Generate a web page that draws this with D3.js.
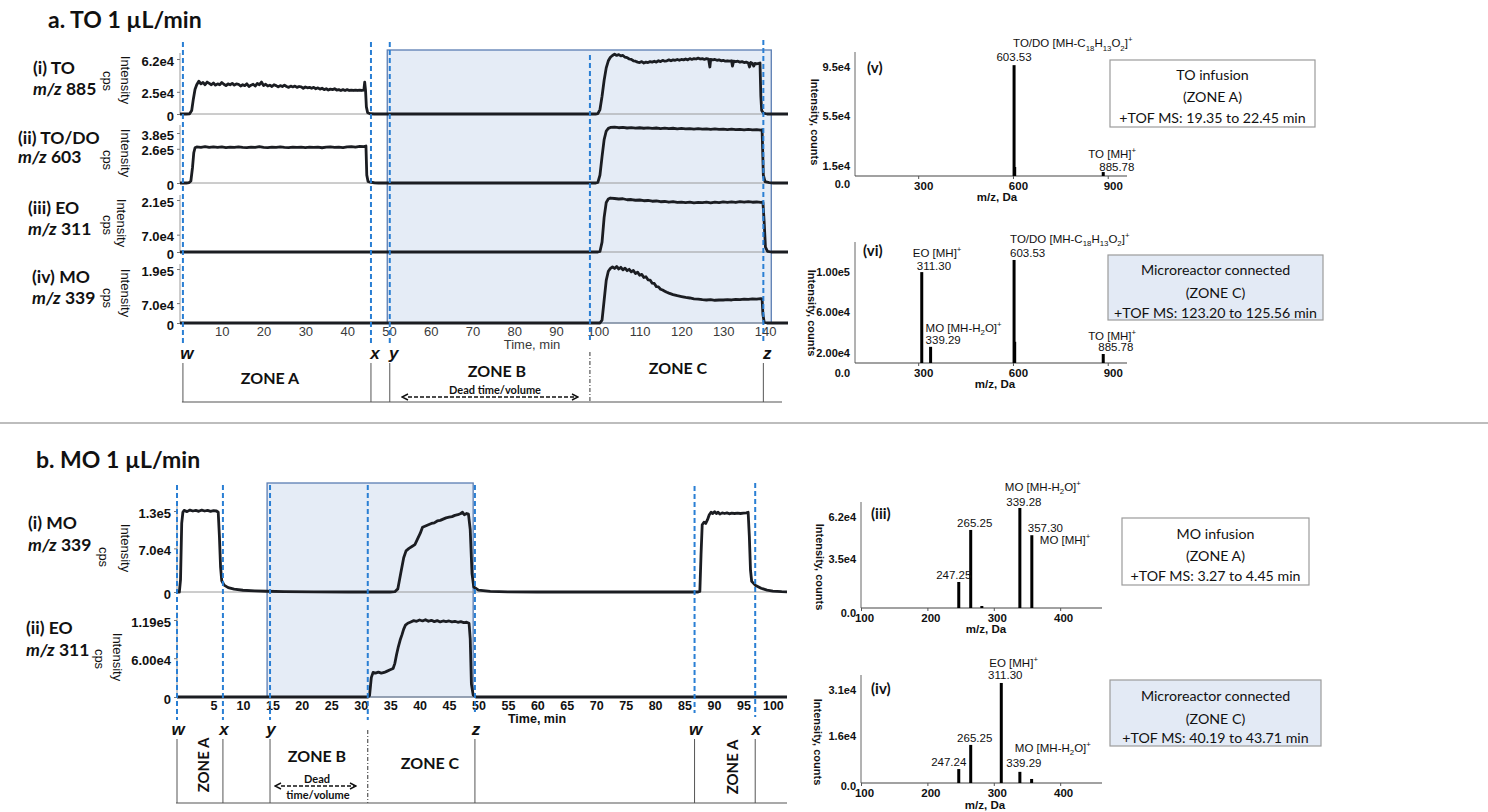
<!DOCTYPE html>
<html>
<head>
<meta charset="utf-8">
<script src="https://cdn.jsdelivr.net/npm/d3@7"></script>
<style>
html,body{margin:0;padding:0;background:#fff;}
svg{display:block;}
text{white-space:pre;}
</style>
</head>
<body>
<svg id="fig" width="1488" height="812"></svg>
<script>
// ================= DATA =================
// Panel a: TO infusion, extracted-ion chromatograms [time (min), intensity (cps)]
const aTO885 = [[0,0],[1.5,0],[2.3,300],[2.8,4000],[3.2,17000],[3.6,28000],[4.0,33000],[4.5,37000],[5,34000],[5.5,35500],[6,33000],[6.5,36000],[7,34500],[7.5,33000],[8,35000],[8.5,32500],[9,34000],[9.5,33000],[10,35500],[10.5,33500],[11,32000],[11.5,34000],[12,33000],[12.5,34500],[13,32500],[13.5,34000],[14,33500],[14.5,31500],[15,33000],[15.5,32000],[16,34000],[16.5,31000],[17,32500],[17.5,33500],[18,31500],[18.5,34500],[19,33000],[19.5,36000],[20,32000],[20.5,33500],[21,31500],[21.5,32500],[22,31000],[22.5,33000],[23,32000],[23.5,30500],[24,32000],[24.5,31000],[25,32500],[25.5,31000],[26,30000],[26.5,31500],[27,30500],[27.5,31500],[28,30000],[28.5,31000],[29,30500],[29.5,29000],[30,30500],[30.5,29500],[31,30000],[31.5,29000],[32,30000],[32.5,28500],[33,29500],[33.5,28000],[34,29000],[34.5,27500],[35,28500],[35.5,27000],[36,28000],[36.5,27500],[37,28500],[37.5,27000],[38,27500],[38.5,26500],[39,27500],[39.5,26500],[40,27500],[40.5,26500],[41,27000],[41.5,26500],[42,27000],[42.5,26500],[43,27000],[43.5,26500],[44,27000],[44.2,36000],[44.4,27000],[44.6,8000],[44.9,1500],[45.5,300],[46.5,0],[99.5,0],[100,300],[100.5,5000],[101,20000],[101.5,38000],[102,52000],[102.5,60000],[103,64000],[103.5,66000],[104,67500],[104.5,66000],[105,67000],[105.5,65500],[106,66000],[106.5,64000],[107,63500],[107.5,62000],[108,61500],[108.5,60000],[109,59500],[109.5,58500],[110,58000],[110.5,59000],[111,57500],[111.5,58500],[112,58000],[112.5,59000],[113,58500],[113.5,59500],[114,58500],[114.5,60000],[115,59000],[115.5,60500],[116,59500],[116.5,60000],[117,61000],[117.5,60000],[118,61000],[118.5,60500],[119,61500],[119.5,60500],[120,61500],[120.5,61000],[121,62000],[121.5,61000],[122,62500],[122.5,61500],[123,62500],[123.5,62000],[124,63000],[124.5,62000],[125,62500],[125.5,61500],[126,62500],[126.5,62000],[126.8,53000],[127,61500],[127.5,61000],[128,61500],[128.5,60500],[129,61000],[129.5,60000],[130,60500],[130.5,59500],[131,60000],[131.5,59500],[132,60000],[132.2,54000],[132.5,59500],[133,59000],[133.5,59500],[134,58500],[134.5,59000],[135,58000],[135.5,58500],[136,57500],[136.3,53000],[136.6,58000],[137,57000],[137.3,54000],[137.6,57000],[138,56500],[138.5,57000],[138.8,57500],[139,20000],[139.2,4000],[139.6,1000],[140.5,0],[145.5,0]];
const aTODO603 = [[0,0],[1.5,0],[2.2,3000],[2.6,15000],[3.0,120000],[3.3,230000],[3.6,268000],[4,274000],[5,271000],[6,276000],[7,270000],[8,275000],[9,271000],[10,274000],[11,269000],[12,273000],[13,270000],[14,275000],[15,271000],[16,269000],[17,273000],[18,270000],[19,276000],[20,271000],[21,269000],[22,273000],[23,270000],[24,274000],[25,271000],[26,269000],[27,273000],[28,270000],[29,272000],[30,269000],[31,273000],[32,270000],[33,272000],[34,268000],[35,272000],[36,274000],[37,270000],[38,273000],[39,269000],[40,275000],[41,277000],[42,273000],[43,278000],[44,276000],[44.5,281000],[44.7,60000],[45,12000],[45.5,6000],[46.5,2000],[47.5,0],[99.5,0],[100,5000],[100.5,60000],[101,200000],[101.5,330000],[102,395000],[102.5,415000],[103,422000],[104,425000],[105,420000],[106,423000],[107,418000],[108,421000],[109,417000],[110,420000],[111,416000],[112,419000],[113,415000],[114,418000],[115,414000],[116,417000],[117,413000],[118,416000],[119,412000],[120,415000],[121,411000],[122,414000],[123,410000],[124,413000],[125,409000],[126,412000],[127,408000],[128,411000],[129,407000],[130,410000],[131,406000],[132,409000],[133,405000],[134,408000],[135,404000],[136,407000],[137,403000],[138,406000],[139,402000],[139.3,405000],[139.6,60000],[140,10000],[141,3000],[142,0],[145.5,0]];
const aEO311 = [[0,0],[100,0],[100.5,2000],[101,40000],[101.5,140000],[102,200000],[102.5,214000],[103,218000],[104,216000],[105,214000],[106,215000],[107,211000],[108,212000],[109,209000],[110,210000],[111,207000],[112,208000],[113,205000],[114,206000],[115,203000],[116,204000],[117,201000],[118,203000],[119,200000],[120,201000],[121,199000],[122,201000],[123,198000],[124,200000],[125,199000],[126,201000],[127,198000],[128,201000],[129,199000],[130,202000],[131,200000],[132,202000],[133,200000],[134,203000],[135,201000],[136,203000],[137,201000],[138,202000],[139,200000],[139.5,201000],[139.8,120000],[140.1,20000],[140.6,3000],[141.5,0],[145.5,0]];
const aMO339 = [[0,0],[100.5,0],[101,10000],[101.5,80000],[102,150000],[102.5,182000],[103,192000],[103.5,197000],[104,192000],[104.5,199000],[105,190000],[105.5,196000],[106,187000],[106.5,193000],[107,184000],[107.5,189000],[108,180000],[108.5,185000],[109,174000],[109.5,179000],[110,168000],[110.5,171000],[111,160000],[111.5,163000],[112,152000],[112.5,151000],[113,140000],[113.5,139000],[114,128000],[114.5,127000],[115,119000],[115.5,116000],[116,112000],[116.5,108000],[117,105000],[118,100000],[119,96000],[120,93000],[121,90000],[122,88000],[123,85000],[124,84000],[125,82000],[126,81000],[127,82000],[128,80000],[129,81000],[130,81000],[131,82000],[132,81000],[133,83000],[134,82000],[135,84000],[136,83000],[137,85000],[138,84000],[139,86000],[139.3,85000],[139.5,30000],[139.8,3000],[140.5,0],[145.5,0]];

const aTimeTicks = [10,20,30,40,50,60,70,80,90,100,110,120,130,140];
const aTicksTO885 = [0, 2.5e4, 6.2e4];   const aTickLabelsTO885 = ["0","2.5e4","6.2e4"];
const aTicksTODO603 = [0, 2.6e5, 3.8e5]; const aTickLabelsTODO603 = ["0","2.6e5","3.8e5"];
const aTicksEO311 = [0, 7.0e4, 2.1e5];   const aTickLabelsEO311 = ["0","7.0e4","2.1e5"];
const aTicksMO339 = [0, 7.0e4, 1.9e5];   const aTickLabelsMO339 = ["0","7.0e4","1.9e5"];
const aMarkerTimes = [0.7, 45.7, 50.2, 139.6];
const aMarkerNames = ["w","x","y","z"];
const aSwitchTime = 98.1;

// Panel b: MO infusion chromatograms [time (min), intensity (cps)]
const bMO339 = [[-1.2,0],[-0.8,0],[-0.6,20000],[-0.4,110000],[-0.2,128000],[0,131000],[0.5,129000],[1,131500],[1.5,130000],[2,131000],[2.5,129500],[3,131500],[3.5,130000],[4,131000],[4.5,129500],[5,130500],[5.5,130000],[5.8,128000],[6.0,90000],[6.2,40000],[6.4,18000],[6.8,11000],[7.5,7000],[8.5,4500],[10,2800],[12,1800],[14,1200],[17,700],[22,300],[28,0],[35,0],[35.8,500],[36.3,5000],[36.8,30000],[37.3,55000],[37.7,66000],[38.2,70000],[38.7,73000],[39.2,76000],[39.6,84000],[40.1,94000],[40.5,104000],[41,106000],[41.5,108000],[42,110000],[42.5,111000],[43,114000],[43.5,115000],[44,117000],[44.5,119000],[45,120000],[45.5,121000],[46,123000],[46.5,124000],[47,126000],[47.3,128000],[47.6,124000],[48,126000],[48.3,125000],[48.6,100000],[48.9,30000],[49.2,8000],[50,3000],[52,1000],[55,300],[60,0],[87.3,0],[87.6,1000],[87.8,60000],[88,108000],[88.3,112000],[88.6,110000],[88.9,116000],[89.2,124000],[89.5,128000],[89.8,126000],[90.1,129000],[90.4,126000],[90.7,128000],[91,125000],[91.4,127000],[91.8,126000],[92.2,127000],[92.6,125500],[93,126500],[93.5,126000],[94,126500],[94.5,126000],[95,126500],[95.5,127000],[95.8,128000],[96,90000],[96.2,35000],[96.4,17000],[97,11000],[98,6000],[99,3000],[100,1500],[101.5,500],[102.4,300]];
const bEO311 = [[-1.2,0],[31.2,0],[31.5,2000],[31.8,30000],[32.1,38000],[32.5,37000],[33,38500],[33.5,37000],[34,38000],[34.5,40000],[35,42000],[35.5,44000],[35.8,52000],[36.1,66000],[36.4,78000],[36.7,88000],[37,96000],[37.3,105000],[37.6,111000],[38,114000],[38.5,116000],[39,118000],[39.5,117000],[40,119000],[40.5,117500],[41,119500],[41.5,117000],[42,118500],[42.5,116500],[43,118000],[43.5,116000],[44,117500],[44.5,116500],[45,117500],[45.5,116000],[46,117000],[46.5,115500],[47,116500],[47.5,115000],[48,115500],[48.4,114000],[48.6,90000],[48.8,20000],[49.1,3000],[49.6,0],[102.4,0]];

const bTimeTicks = [5,10,15,20,25,30,35,40,45,50,55,60,65,70,75,80,85,90,95,100];
const bTicksMO339 = [0, 7.0e4, 1.3e5];  const bTickLabelsMO339 = ["0","7.0e4","1.3e5"];
const bTicksEO311 = [0, 6.0e4, 1.19e5]; const bTickLabelsEO311 = ["0","6.00e4","1.19e5"];
const bMarkerTimes = [-1.2, 6.6, 14.6, 49.4, 86.7, 97.0];
const bMarkerNames = ["w","x","y","z","w","x"];
const bSwitchTime = 31.2;

// Mass spectra: m/z and intensity (counts)
const specTOinfMz  = [603.53, 605.5, 885.78];
const specTOinfInt = [9.0e4, 7.3e3, 3.2e3];
const specTOmrMz   = [311.30, 339.29, 603.53, 605.5, 885.78];
const specTOmrInt  = [9.0e4, 1.6e4, 1.02e5, 2.1e4, 8.9e3];
const specMOinfMz  = [247.25, 265.25, 282.0, 339.28, 357.30];
const specMOinfInt = [1.68e4, 5.04e4, 1.3e3, 6.46e4, 4.7e4];
const specMOmrMz   = [247.24, 265.25, 311.30, 339.29, 357.0];
const specMOmrInt  = [4.5e3, 1.23e4, 3.23e4, 3.6e3, 1.3e3];

const specTOYTicks = [0, 1.5e4, 5.5e4, 9.5e4];  const specTOYLabels = ["0.0","1.5e4","5.5e4","9.5e4"];
const specTOmrYTicks = [0, 2.0e4, 6.0e4, 1.0e5]; const specTOmrYLabels = ["0.0","2.00e4","6.00e4","1.00e5"];
const specMOYTicks = [0, 3.5e4, 6.2e4];  const specMOYLabels = ["0.0","3.5e4","6.2e4"];
const specMOmrYTicks = [0, 1.6e4, 3.1e4]; const specMOmrYLabels = ["0.0","1.6e4","3.1e4"];
const specTOXTicks = [300, 600, 900];
const specMOXTicks = [100, 200, 300, 400];

// ================= DRAWING =================
const svg = d3.select("#fig");
const CAL = "Lato, 'Open Sans', sans-serif";
const ARIAL = "'Liberation Sans', Arial, sans-serif";
const BLUE = "#2a7fd4";
const TRACE = "#1b1d22";

// text with _{sub}, ^{sup} and *italic* markup
function rich(sel, str, size) {
  const parts = str.split(/(_\{[^}]*\}|\^\{[^}]*\}|\*[^*]*\*)/).filter(s => s.length);
  let cur = 0;
  parts.forEach(p => {
    let target = 0, txt = p, fs = null, it = false;
    if (p.startsWith("_{")) { target = 0.3 * size; txt = p.slice(2, -1); fs = size * 0.68; }
    else if (p.startsWith("^{")) { target = -0.42 * size; txt = p.slice(2, -1); fs = size * 0.68; }
    else if (p.startsWith("*")) { it = true; txt = p.slice(1, -1); }
    const ts = sel.append("tspan").attr("dy", target - cur).text(txt);
    cur = target;
    if (fs) ts.attr("font-size", fs);
    if (it) ts.attr("font-style", "italic");
  });
  return sel;
}
function label(x, y, str, o = {}) {
  const size = o.size || 13;
  const t = svg.append("text").attr("x", x).attr("y", y)
    .attr("font-family", o.family || ARIAL).attr("font-size", size)
    .attr("font-weight", o.weight || "normal").attr("fill", o.fill || "#111")
    .attr("text-anchor", o.anchor || "start");
  if (o.baseline) t.attr("dominant-baseline", o.baseline);
  if (o.style) t.attr("font-style", o.style);
  if (o.rotate) t.attr("transform", `rotate(${o.rotate},${x},${y})`);
  return rich(t, str, size);
}

// arrow markers for dead-time span
const defs = svg.append("defs");
["s","e"].forEach(k => {
  defs.append("marker").attr("id", "arr" + k).attr("viewBox", "0 0 8 8")
    .attr("refX", k === "e" ? 7 : 1).attr("refY", 4).attr("markerWidth", 8).attr("markerHeight", 8)
    .attr("markerUnits", "userSpaceOnUse").attr("orient", "auto-start-reverse")
    .append("path").attr("d", "M1,1 L7,4 L1,7").attr("fill", "none").attr("stroke", "#111").attr("stroke-width", 1.4);
});

// ---------- chromatogram panel ----------
function chromPanel(p) {
  const x = p.x;
  // shaded zone
  svg.append("rect").attr("x", x(p.shade[0])).attr("y", p.shadeTop)
    .attr("width", x(p.shade[1]) - x(p.shade[0])).attr("height", p.shadeBottom - p.shadeTop)
    .attr("fill", "#e5ecf6").attr("stroke", "#5a7db3").attr("stroke-width", 1.3);

  p.rows.forEach(r => {
    const y = d3.scaleLinear().domain([0, r.ticks[r.ticks.length - 1]]).range([r.base, r.refPix]);
    const g = svg.append("g");
    g.append("line").attr("x1", x.range()[0]).attr("x2", x.range()[0]).attr("y1", r.axisTop).attr("y2", r.base)
      .attr("stroke", "#9a9a9a").attr("stroke-width", 1);
    g.append("line").attr("x1", x.range()[0]).attr("x2", x.range()[1]).attr("y1", r.base).attr("y2", r.base)
      .attr("stroke", "#9a9a9a").attr("stroke-width", 1);
    const ax = g.append("g").attr("transform", `translate(${x.range()[0]},0)`)
      .call(d3.axisLeft(y).tickValues(r.ticks).tickFormat((d, i) => r.labels[i]).tickSize(3).tickPadding(3));
    ax.select(".domain").remove();
    ax.selectAll("line").attr("stroke", "#777");
    ax.selectAll("text").attr("transform", "translate(0,2)")
      .attr("font-family", ARIAL).attr("font-size", 13).attr("font-weight", "bold").attr("fill", "#111");
    g.append("path").datum(r.data)
      .attr("d", d3.line().x(d => x(d[0])).y(d => y(d[1])))
      .attr("fill", "none").attr("stroke", TRACE).attr("stroke-width", 2.8).attr("stroke-linejoin", "round");
    label(r.tx, r.ty1, r.title, { family: CAL, size: 17.5, weight: "bold" });
    label(r.tx, r.ty2, "*m/z* " + r.mz, { family: CAL, size: 17.5, weight: "bold" });
    label(r.ix, r.iy, "Intensity", { size: 13, anchor: "middle", baseline: "central", rotate: 90 });
    label(r.cx, r.cy, "cps", { size: 13, anchor: "middle", baseline: "central", rotate: 90 });
  });

  // time axis
  const xa = svg.append("g").attr("transform", `translate(0,${p.axisY})`)
    .call(d3.axisBottom(x).tickValues(p.timeTicks).tickSize(0).tickPadding(p.tickPad));
  xa.select(".domain").remove();
  xa.selectAll("text").attr("font-family", ARIAL).attr("font-size", p.boldTicks ? 12.5 : 13)
    .attr("font-weight", p.boldTicks ? "bold" : "normal").attr("fill", p.boldTicks ? "#111" : "#3a3a3a");
  label(p.timeLabel[0], p.timeLabel[1], "Time, min",
    { size: p.boldTicks ? 12.5 : 13, anchor: "middle", baseline: "central", weight: p.boldTicks ? "bold" : "normal", fill: p.boldTicks ? "#111" : "#3a3a3a" });

  // switching markers
  p.markerTimes.forEach((t, i) => {
    svg.append("line").attr("x1", x(t)).attr("x2", x(t)).attr("y1", p.markTop[i]).attr("y2", p.markBottom[i])
      .attr("stroke", BLUE).attr("stroke-width", 2).attr("stroke-dasharray", "5,3");
    label(x(t) + p.letterDx, p.letterY, p.markerNames[i], { size: 17, weight: "bold", style: "italic", anchor: "middle", baseline: "central" });
    svg.append("line").attr("x1", x(t)).attr("x2", x(t)).attr("y1", p.barTop).attr("y2", p.barBottom)
      .attr("stroke", "#555").attr("stroke-width", 1);
  });
  svg.append("line").attr("x1", x(p.switchTime)).attr("x2", x(p.switchTime)).attr("y1", p.switchTop).attr("y2", p.markBottom[0])
    .attr("stroke", BLUE).attr("stroke-width", 2).attr("stroke-dasharray", "5,3");
  svg.append("line").attr("x1", x(p.switchTime)).attr("x2", x(p.switchTime)).attr("y1", p.switchBarTop).attr("y2", p.barBottom)
    .attr("stroke", "#333").attr("stroke-width", 1).attr("stroke-dasharray", "4,2,1,2");
  svg.append("line").attr("x1", x(p.markerTimes[0]) - 1).attr("x2", p.barRight).attr("y1", p.barBottom).attr("y2", p.barBottom)
    .attr("stroke", "#555").attr("stroke-width", 1.2);
}

// ---------- panel a ----------
const xA = d3.scaleLinear().domain([0, 145.5]).range([180, 788]);
chromPanel({
  x: xA, shade: [49.6, 141.5], shadeTop: 50, shadeBottom: 323,
  rows: [
    { title: "(i) TO", mz: "885", data: aTO885, ticks: aTicksTO885, labels: aTickLabelsTO885, base: 114, refPix: 59, axisTop: 53, tx: 33, ty1: 74, ty2: 95, ix: 126, iy: 80, cx: 108, cy: 81 },
    { title: "(ii) TO/DO", mz: "603", data: aTODO603, ticks: aTicksTODO603, labels: aTickLabelsTODO603, base: 183, refPix: 133, axisTop: 125, tx: 18, ty1: 144, ty2: 163, ix: 126, iy: 153, cx: 108, cy: 160 },
    { title: "(iii) EO", mz: "311", data: aEO311, ticks: aTicksEO311, labels: aTickLabelsEO311, base: 252, refPix: 200, axisTop: 195, tx: 28, ty1: 214, ty2: 235, ix: 122, iy: 223, cx: 108, cy: 225 },
    { title: "(iv) MO", mz: "339", data: aMO339, ticks: aTicksMO339, labels: aTickLabelsMO339, base: 323, refPix: 269, axisTop: 264, tx: 32, ty1: 283, ty2: 304, ix: 126, iy: 293, cx: 108, cy: 298 }
  ],
  axisY: 323, timeTicks: aTimeTicks, tickPad: 4, boldTicks: false, timeLabel: [532, 344],
  markerTimes: aMarkerTimes, markerNames: aMarkerNames, markTop: [42, 42, 42, 40], markBottom: [343, 343, 343, 343],
  letterY: 353, letterDx: 4, barTop: 363, barBottom: 402, barRight: 782,
  switchTime: aSwitchTime, switchTop: 55, switchBarTop: 352
});
label(48, 28, "a. TO 1 µL/min", { family: CAL, size: 23, weight: "bold" });
label(270, 377, "ZONE A", { family: CAL, size: 16, weight: "bold", anchor: "middle", baseline: "central" });
label(497, 370, "ZONE B", { family: CAL, size: 16, weight: "bold", anchor: "middle", baseline: "central" });
label(678, 367, "ZONE C", { family: CAL, size: 16, weight: "bold", anchor: "middle", baseline: "central" });
label(495, 389, "Dead time/volume", { family: CAL, size: 11, weight: "bold", anchor: "middle", baseline: "central" });
svg.append("line").attr("x1", 408).attr("x2", 578).attr("y1", 397).attr("y2", 397)
  .attr("stroke", "#111").attr("stroke-width", 1.4).attr("stroke-dasharray", "4,2")
  .attr("marker-start", "url(#arrs)").attr("marker-end", "url(#arre)");

// separator
svg.append("line").attr("x1", 0).attr("x2", 1488).attr("y1", 423).attr("y2", 423).attr("stroke", "#7d7d7d").attr("stroke-width", 1.2);

// ---------- panel b ----------
const xB = d3.scaleLinear().domain([-1.2, 102.4]).range([177, 787]);
chromPanel({
  x: xB, shade: [14.1, 49.1], shadeTop: 483, shadeBottom: 697,
  rows: [
    { title: "(i) MO", mz: "339", data: bMO339, ticks: bTicksMO339, labels: bTickLabelsMO339, base: 592, refPix: 511, axisTop: 502, tx: 28, ty1: 529, ty2: 551, ix: 126, iy: 548, cx: 104, cy: 557 },
    { title: "(ii) EO", mz: "311", data: bEO311, ticks: bTicksEO311, labels: bTickLabelsEO311, base: 697, refPix: 620, axisTop: 612, tx: 26, ty1: 634, ty2: 656, ix: 118, iy: 657, cx: 100, cy: 659 }
  ],
  axisY: 697, timeTicks: bTimeTicks, tickPad: 4, boldTicks: true, timeLabel: [537, 719],
  markerTimes: bMarkerTimes, markerNames: bMarkerNames,
  markTop: [485, 485, 485, 485, 486, 483], markBottom: [720, 720, 720, 712, 713, 717],
  letterY: 729, letterDx: 1, barTop: 739, barBottom: 803, barRight: 787,
  switchTime: bSwitchTime, switchTop: 485, switchBarTop: 730
});
label(36, 468, "b. MO 1 µL/min", { family: CAL, size: 23, weight: "bold" });
label(203, 765, "ZONE A", { family: CAL, size: 15, weight: "bold", anchor: "middle", baseline: "central", rotate: -90 });
label(732, 767, "ZONE A", { family: CAL, size: 15, weight: "bold", anchor: "middle", baseline: "central", rotate: -90 });
label(317, 755, "ZONE B", { family: CAL, size: 16, weight: "bold", anchor: "middle", baseline: "central" });
label(430, 762, "ZONE C", { family: CAL, size: 16, weight: "bold", anchor: "middle", baseline: "central" });
label(317, 778, "Dead", { family: CAL, size: 11, weight: "bold", anchor: "middle", baseline: "central" });
label(318, 794, "time/volume", { family: CAL, size: 11, weight: "bold", anchor: "middle", baseline: "central" });
svg.append("line").attr("x1", 281).attr("x2", 356).attr("y1", 786).attr("y2", 786)
  .attr("stroke", "#111").attr("stroke-width", 1.4).attr("stroke-dasharray", "4,2")
  .attr("marker-start", "url(#arrs)").attr("marker-end", "url(#arre)");

// ---------- spectra ----------
function spectrum(o) {
  const x = d3.scaleLinear().domain(o.mzDomain).range([o.left, o.right]);
  const y = d3.scaleLinear().domain([0, o.yTicks[o.yTicks.length - 1]]).range([o.base, o.refPix]);
  const g = svg.append("g");
  g.append("line").attr("x1", o.left).attr("x2", o.left).attr("y1", o.top).attr("y2", o.base).attr("stroke", "#666").attr("stroke-width", 1);
  g.append("line").attr("x1", o.left).attr("x2", o.right).attr("y1", o.base).attr("y2", o.base).attr("stroke", "#444").attr("stroke-width", 1.2);
  const ya = g.append("g").attr("transform", `translate(${o.left},0)`)
    .call(d3.axisLeft(y).tickValues(o.yTicks).tickFormat((d, i) => o.yLabels[i]).tickSize(0).tickPadding(5));
  ya.select(".domain").remove();
  ya.selectAll("text").attr("transform", `translate(0,${o.shift})`)
    .attr("font-family", ARIAL).attr("font-size", 11).attr("font-weight", "bold").attr("fill", "#111");
  const xa = g.append("g").attr("transform", `translate(0,${o.base})`)
    .call(d3.axisBottom(x).tickValues(o.xTicks).tickSize(3).tickPadding(3));
  xa.select(".domain").remove();
  xa.selectAll("line").attr("stroke", "#555");
  xa.selectAll("text").attr("dx", o.xdx)
    .attr("font-family", ARIAL).attr("font-size", 11.5).attr("font-weight", "bold").attr("fill", "#111");
  g.selectAll("rect.bar").data(d3.zip(o.mz, o.int)).join("rect").attr("class", "bar")
    .attr("x", d => x(d[0]) - 1.5).attr("width", 3)
    .attr("y", d => y(d[1])).attr("height", d => o.base - y(d[1])).attr("fill", "#000");
  label(o.tag[0], o.tag[1], o.tagText, { family: CAL, size: 15, weight: "bold", baseline: "central" });
  label(o.yTitle[0], o.yTitle[1], "Intensity, counts", { size: 11, weight: "bold", anchor: "middle", baseline: "central", rotate: 90 });
  label(o.xTitle[0], o.xTitle[1], "m/z, Da", { size: 11.5, weight: "bold", anchor: "middle", baseline: "central" });
  return { x, y };
}
function peakText(s, mz, v, dx, dy, str, anchor) {
  label(s.x(mz) + dx, s.y(v) + dy, str, { size: 11.5, anchor: anchor || "start", fill: "#111" });
}
function infoBox(x0, y0, w, h, fill, lines, ys) {
  svg.append("rect").attr("x", x0).attr("y", y0).attr("width", w).attr("height", h)
    .attr("fill", fill).attr("stroke", "#9b9b9b").attr("stroke-width", 1.2);
  lines.forEach((t, i) => label(x0 + w / 2, ys[i], t, { family: CAL, size: 14.2, anchor: "middle", baseline: "central", fill: "#111" }));
}

// (v) TO infusion spectrum
const sV = spectrum({
  mzDomain: [100, 961], left: 855, right: 1127, base: 176, top: 52, refPix: 59, shift: 8,
  yTicks: specTOYTicks, yLabels: specTOYLabels, xTicks: specTOXTicks, xdx: 5,
  mz: specTOinfMz, int: specTOinfInt, tag: [867, 67], tagText: "(v)", yTitle: [815, 122], xTitle: [997, 197]
});
peakText(sV, 603.53, specTOinfInt[0], -1, -18, "TO/DO [MH-C_{18}H_{13}O_{2}]^{+}");
peakText(sV, 603.53, specTOinfInt[0], 0, -4, "603.53", "middle");
peakText(sV, 885.78, specTOinfInt[2], -15, -14, "TO [MH]^{+}");
peakText(sV, 885.78, specTOinfInt[2], -4, -1, "885.78");
infoBox(1110, 60, 205, 67, "#ffffff", ["TO infusion", "(ZONE A)", "+TOF MS: 19.35 to 22.45 min"], [74, 96, 117]);

// (vi) TO with microreactor
const sVI = spectrum({
  mzDomain: [100, 961], left: 855, right: 1127, base: 363, top: 242, refPix: 262, shift: 10,
  yTicks: specTOmrYTicks, yLabels: specTOmrYLabels, xTicks: specTOXTicks, xdx: 5,
  mz: specTOmrMz, int: specTOmrInt, tag: [863, 250], tagText: "(vi)", yTitle: [812, 313], xTitle: [995, 384]
});
peakText(sVI, 311.30, specTOmrInt[0], -9, -15, "EO [MH]^{+}");
peakText(sVI, 311.30, specTOmrInt[0], -5, -2, "311.30");
peakText(sVI, 603.53, specTOmrInt[2], -4, -17, "TO/DO [MH-C_{18}H_{13}O_{2}]^{+}");
peakText(sVI, 603.53, specTOmrInt[2], -4, -3, "603.53");
peakText(sVI, 339.29, specTOmrInt[1], -5, -15, "MO [MH-H_{2}O]^{+}");
peakText(sVI, 339.29, specTOmrInt[1], -5, -3, "339.29");
peakText(sVI, 885.78, specTOmrInt[4], -15, -14, "TO [MH]^{+}");
peakText(sVI, 885.78, specTOmrInt[4], -5, -3, "885.78");
infoBox(1108, 255, 215, 65, "#e3eaf5", ["Microreactor connected", "(ZONE C)", "+TOF MS: 123.20 to 125.56 min"], [269, 292, 312]);

// (iii) MO infusion spectrum
const sIII = spectrum({
  mzDomain: [100, 463], left: 861, right: 1102, base: 608, top: 502, refPix: 512, shift: 5,
  yTicks: specMOYTicks, yLabels: specMOYLabels, xTicks: specMOXTicks, xdx: 3,
  mz: specMOinfMz, int: specMOinfInt, tag: [871, 513], tagText: "(iii)", yTitle: [820, 567], xTitle: [986, 629]
});
peakText(sIII, 339.28, specMOinfInt[3], -15, -17, "MO [MH-H_{2}O]^{+}");
peakText(sIII, 339.28, specMOinfInt[3], 4, -2, "339.28", "middle");
peakText(sIII, 265.25, specMOinfInt[1], 4, -3, "265.25", "middle");
peakText(sIII, 247.25, specMOinfInt[0], -5, -3, "247.25", "middle");
peakText(sIII, 357.30, specMOinfInt[4], -4, -3, "357.30");
peakText(sIII, 357.30, specMOinfInt[4], 8, 9, "MO [MH]^{+}");
infoBox(1122, 518, 187, 67, "#ffffff", ["MO infusion", "(ZONE A)", "+TOF MS: 3.27 to 4.45 min"], [533, 555, 575]);

// (iv) MO with microreactor
const sIV = spectrum({
  mzDomain: [100, 463], left: 861, right: 1102, base: 783, top: 675, refPix: 687, shift: 3,
  yTicks: specMOmrYTicks, yLabels: specMOmrYLabels, xTicks: specMOXTicks, xdx: 3,
  mz: specMOmrMz, int: specMOmrInt, tag: [871, 688], tagText: "(iv)", yTitle: [818, 742], xTitle: [985, 805]
});
peakText(sIV, 311.30, specMOmrInt[2], -12, -16, "EO [MH]^{+}");
peakText(sIV, 311.30, specMOmrInt[2], 4, -4, "311.30", "middle");
peakText(sIV, 265.25, specMOmrInt[1], 4, -3, "265.25", "middle");
peakText(sIV, 247.24, specMOmrInt[0], -10, -3, "247.24", "middle");
peakText(sIV, 339.29, specMOmrInt[3], -5, -20, "MO [MH-H_{2}O]^{+}");
peakText(sIV, 339.29, specMOmrInt[3], 4, -5, "339.29", "middle");
infoBox(1110, 680, 211, 66, "#e3eaf5", ["Microreactor connected", "(ZONE C)", "+TOF MS: 40.19 to 43.71 min"], [695, 718, 737]);
</script>
</body>
</html>
